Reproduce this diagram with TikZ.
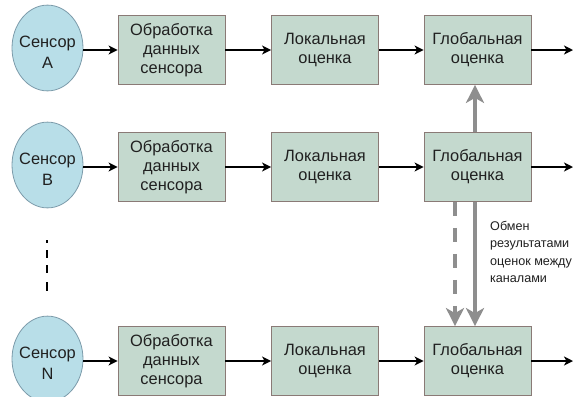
\documentclass[tikz,border=0pt]{standalone}
\usepackage{fontspec}
\setmainfont{Liberation Sans}
\usetikzlibrary{arrows.meta}
\definecolor{boxfill}{HTML}{C4D9CE}
\definecolor{boxdraw}{HTML}{8A7A76}
\definecolor{cirfill}{HTML}{B8DEE8}
\definecolor{cirdraw}{HTML}{7C9BAA}
\definecolor{exgray}{HTML}{8E8E8E}
\definecolor{txt}{HTML}{202020}
\begin{document}
\begin{tikzpicture}[x=1bp,y=-1bp,
  procbox/.style={draw=boxdraw, fill=boxfill, line width=0.8bp, minimum width=107bp, minimum height=69bp, inner sep=0pt, align=center, text=txt, font=\fontsize{16.4bp}{19bp}\selectfont},
  sensor/.style={draw=cirdraw, fill=cirfill, line width=0.8bp, circle, inner sep=0pt, minimum size=78bp, xscale=0.91, yscale=1.1},
  sensortext/.style={align=center, text=txt, font=\fontsize{16.4bp}{21bp}\selectfont},
  flow/.style={line width=1.7bp, -{Stealth[length=9bp,width=9bp,inset=2.5bp]}},
  exch/.style={exgray, line width=4bp, -{Stealth[length=18bp,width=18bp,inset=5bp]}},
  exchd/.style={exch, dash pattern=on 14bp off 12bp},
]
\useasboundingbox (0,0) rectangle (573,396);
\foreach \r/\y/\l in {A/48/A, B/165/B, N/359/N}{
  \node[sensor] (s\r) at (47.5,\y) {};
  \node[sensortext] (st\r) at (47.5,\y+4) {Сенсор\\\l};
  \node[procbox] (p\r) at (171.5,\y+2) {Обработка\\данных\\сенсора};
  \node[procbox] (l\r) at (325,\y+2) {Локальная\\оценка};
  \node[procbox] (g\r) at (477.5,\y+2) {Глобальная\\оценка};
  \coordinate (e\r) at (573,\y+2);
  \draw[flow] (s\r.east |- p\r.west) -- (p\r.west);
  \draw[flow] (p\r) -- (l\r);
  \draw[flow] (l\r) -- (g\r);
  \draw[flow] (g\r) -- (e\r);
}
% exchange arrows
\draw[exch] ([xshift=-2.5bp]gB.north) -- ([xshift=-2.5bp]gA.south);
\draw[exch] ([xshift=-2.5bp]gB.south) -- ([xshift=-2.5bp]gN.north);
\draw[exchd] ([xshift=-22.5bp]gB.south) -- ([xshift=-22.5bp]gN.north);
\node[anchor=north west, align=left, inner sep=0pt, text=txt, font=\fontsize{12.6bp}{17.5bp}\selectfont] (lbl) at (490,221) {Обмен\\результатами\\оценок между\\каналами};
% ellipsis dashes
\coordinate (d1) at (47,240);
\coordinate (d2) at (47,291);
\draw[line width=2bp, dash pattern=on 3bp off 7bp on 8bp off 7bp on 8bp off 9bp on 9bp] (d1) -- (d2);
\end{tikzpicture}
\end{document}
